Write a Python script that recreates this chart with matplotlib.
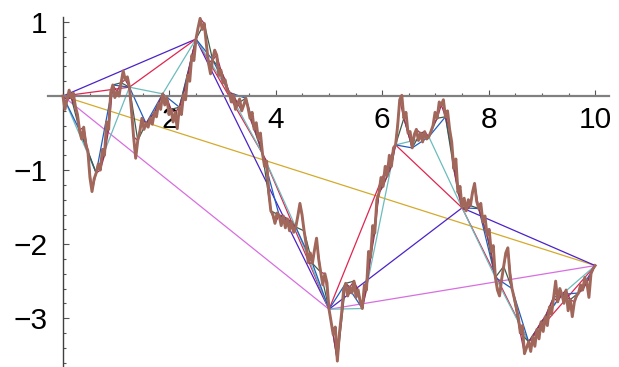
import numpy as np
import matplotlib
matplotlib.use("Agg")
import matplotlib.pyplot as plt
from matplotlib.ticker import FixedLocator, MultipleLocator

# Brownian path, 257 samples on [0, 10]
path = [
    0.00, -0.18, -0.05, 0.08, -0.02, 0.04, -0.14, -0.25,
    -0.46, -0.58, -0.42, -0.66, -0.74, -1.10, -1.29, -1.12,
    -1.04, -0.92, -1.00, -0.72, -0.80, -0.35, -0.45, 0.05,
    0.15, -0.02, 0.06, 0.00, 0.18, 0.34, 0.22, 0.26,
    0.12, -0.20, -0.55, -0.84, -0.60, -0.48, -0.30, -0.45,
    -0.37, -0.42, -0.30, -0.38, -0.22, -0.28, -0.10, -0.18,
    0.03, -0.12, -0.02, -0.25, -0.18, -0.35, -0.22, -0.44,
    -0.15, -0.25, 0.02, -0.05, 0.28, 0.20, 0.55, 0.48,
    0.77, 0.92, 1.05, 0.90, 0.98, 0.70, 0.45, 0.30,
    0.49, 0.62, 0.55, 0.28, 0.35, 0.18, 0.22, 0.08,
    0.05, -0.08, 0.02, -0.18, -0.10, -0.04, -0.20, -0.12,
    -0.03, -0.15, -0.30, -0.22, -0.45, -0.36, -0.58, -0.50,
    -0.78, -0.95, -0.88, -1.30, -1.55, -1.60, -1.72, -1.58,
    -1.61, -1.75, -1.62, -1.78, -1.66, -1.82, -1.70, -1.84,
    -1.77, -1.62, -1.45, -1.60, -1.82, -2.00, -2.25, -2.12,
    -2.26, -2.08, -1.92, -2.20, -2.38, -2.55, -2.40, -2.52,
    -2.88, -3.05, -3.22, -3.12, -3.58, -3.20, -2.95, -2.62,
    -2.53, -2.70, -2.58, -2.66, -2.50, -2.72, -2.62, -2.78,
    -2.87, -2.55, -2.62, -2.10, -2.18, -1.75, -1.85, -1.40,
    -1.31, -1.10, -1.22, -0.95, -1.08, -0.80, -0.95, -0.70,
    -0.66, -0.40, -0.05, 0.01, -0.30, -0.22, -0.50, -0.48,
    -0.70, -0.52, -0.45, -0.60, -0.50, -0.62, -0.48, -0.58,
    -0.55, -0.48, -0.40, -0.22, -0.30, -0.08, -0.12, -0.05,
    -0.28, -0.20, -0.45, -0.62, -0.98, -0.85, -1.30, -1.22,
    -1.51, -1.38, -1.55, -1.40, -1.48, -1.30, -1.18, -1.42,
    -1.52, -1.45, -1.70, -1.62, -1.88, -1.80, -2.10, -2.02,
    -2.45, -2.62, -2.70, -2.48, -2.30, -2.12, -2.05, -2.40,
    -2.60, -2.72, -2.85, -2.98, -3.20, -3.10, -3.48, -3.40,
    -3.32, -3.45, -3.25, -3.38, -3.15, -3.28, -3.05, -3.18,
    -2.98, -3.10, -2.85, -2.95, -2.72, -2.50, -2.78, -2.60,
    -2.68, -2.80, -2.62, -2.90, -2.75, -2.98, -2.78, -2.70,
    -2.66, -2.55, -2.62, -2.45, -2.52, -2.72, -2.40, -2.33,
    -2.29,
]
t = np.linspace(0, 10, len(path))
path = np.array(path)

# refinement levels: every 256th, 128th, ... sample of the path
steps = [256, 128, 64, 32, 16, 8, 4, 2]
level_colors = ["#d4aa2c", "#d86ee0", "#4b22c8", "#e0254f", "#6cbcbc",
                "#1f5ec0", "#3f5c4a", "#a42a5a"]
brown = "#a0675a"

xticks = [2, 4, 6, 8, 10]
yticks = [-3, -2, -1, 1]

fig = plt.figure(figsize=(6.19, 3.67), dpi=100)
ax = fig.add_axes([48 / 619, 0, 561 / 619, 350 / 367])

for s, c in zip(steps, level_colors):
    ax.plot(t[::s], path[::s], color=c, lw=0.9, zorder=2)
ax.plot(t, path, color=brown, lw=2.1, zorder=3)

ax.set_xlim(-0.28, 10.26)
ax.set_ylim(-3.66, 1.068)

for side in ["top", "right"]:
    ax.spines[side].set_visible(False)
ax.spines["left"].set_position(("data", 0))
ax.spines["bottom"].set_position(("data", 0))
ax.spines["bottom"].set_color("#808080")
ax.spines["bottom"].set_linewidth(1.6)
ax.spines["left"].set_color("#404040")
ax.spines["left"].set_linewidth(1.0)
ax.set_axisbelow(True)

ax.xaxis.set_major_locator(FixedLocator(xticks))
ax.yaxis.set_major_locator(FixedLocator(yticks))
ax.xaxis.set_minor_locator(MultipleLocator(0.5))
ax.yaxis.set_minor_locator(MultipleLocator(0.2))

ax.tick_params(which="both", direction="in", color="#555555", width=0.8)
ax.tick_params(which="major", length=4)
ax.tick_params(which="minor", length=2.5)
ax.tick_params(axis="x", which="major", pad=7)
ax.tick_params(axis="y", which="major", pad=11)
for lab in ax.get_xticklabels() + ax.get_yticklabels():
    lab.set_fontfamily("Liberation Sans")
    lab.set_fontsize(21.5)

fig.savefig("out.png", dpi=100)
